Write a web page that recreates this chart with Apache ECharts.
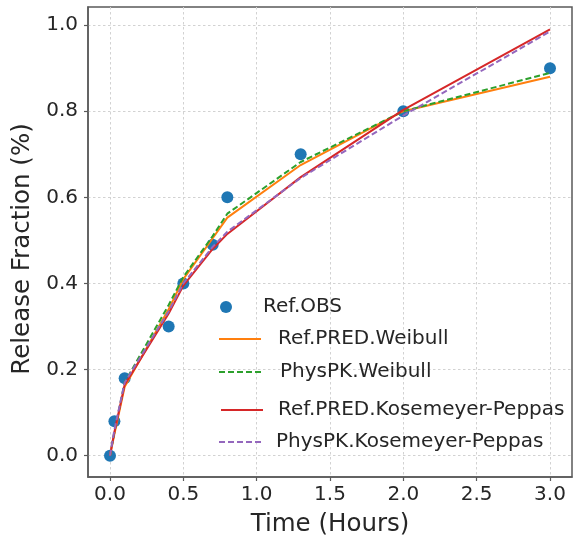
<!DOCTYPE html>
<html>
<head>
<meta charset="utf-8">
<script src="https://cdn.jsdelivr.net/npm/echarts@6/dist/echarts.min.js"></script>
<style>
  html, body { margin: 0; padding: 0; background: #fff; }
  #chart { width: 573px; height: 543px; }
</style>
</head>
<body>
<div id="chart"></div>
<script>
// Sampling times (hours) shared by observations and model predictions
const times = [0, 0.03, 0.1, 0.4, 0.5, 0.7, 0.8, 1.3, 2.0, 3.0];
// Observed release fraction
const refObs = [0, 0.08, 0.18, 0.30, 0.40, 0.49, 0.60, 0.70, 0.80, 0.90];
// Predicted release fraction, per model
const refPredWeibull = [0, 0.05, 0.16, 0.34, 0.41, 0.505, 0.553, 0.675, 0.80, 0.88];
const physPkWeibull = [0, 0.055, 0.17, 0.35, 0.415, 0.51, 0.562, 0.682, 0.80, 0.889];
const refPredKP = [0, 0.055, 0.165, 0.33, 0.395, 0.48, 0.515, 0.647, 0.803, 0.99];
const physPkKP = [0, 0.06, 0.17, 0.335, 0.40, 0.485, 0.52, 0.645, 0.79, 0.985];
// Tick labels
const xTicks = [0, 0.5, 1.0, 1.5, 2.0, 2.5, 3.0];
const yTicks = [0, 0.2, 0.4, 0.6, 0.8, 1.0];

const pair = (ys) => times.map((t, i) => [t, ys[i]]);
const FONT = 'DejaVu Sans';
const TXT = '#262626';
const AXIS = '#5a5a5a';

const axisCommon = {
  type: 'value',
  nameLocation: 'middle',
  nameTextStyle: { fontFamily: FONT, fontSize: 24.5, color: TXT },
  axisLine: { show: true, onZero: false, lineStyle: { color: AXIS, width: 1.5 } },
  axisTick: { show: true, length: 4, lineStyle: { color: AXIS, width: 1.2 } },
  splitLine: { show: true, lineStyle: { color: '#d2d2d2', width: 1, type: [2.5, 2.5] } },
  axisLabel: { fontFamily: FONT, fontSize: 20, color: TXT, formatter: (v) => v.toFixed(1) }
};

const legendBase = {
  orient: 'vertical',
  padding: 0,
  itemWidth: 42,
  itemHeight: 14,
  textStyle: { fontFamily: FONT, fontSize: 20, color: TXT, lineHeight: 20 },
  selectedMode: false
};
const mkLegend = (name, left, centerY, pad, extra) => Object.assign({}, legendBase, {
  data: [name], left: left, top: centerY - 10,
  textStyle: Object.assign({}, legendBase.textStyle, { padding: [0, 0, 0, pad] })
}, extra || {});

// line legends show only the stroke, no marker
const noMarker = { itemStyle: { opacity: 0 } };

const lineSeries = (name, ys, color, dashed) => ({
  name: name,
  type: 'line',
  data: pair(ys),
  showSymbol: false,
  symbol: 'none',
  z: 3,
  lineStyle: { color: color, width: 2, type: dashed ? [6, 3] : 'solid' },
  itemStyle: { color: color }
});

const chart = echarts.init(document.getElementById('chart'), null, { renderer: 'canvas' });
chart.setOption({
  backgroundColor: '#fff',
  animation: false,
  grid: { left: 88, right: 1, top: 7, bottom: 66, show: true, borderColor: AXIS, borderWidth: 1.5, backgroundColor: 'transparent' },
  xAxis: Object.assign({}, axisCommon, {
    name: 'Time (Hours)', nameGap: 35,
    min: -0.15, max: 3.15,
    axisTick: Object.assign({}, axisCommon.axisTick, { customValues: xTicks }),
    axisLabel: Object.assign({}, axisCommon.axisLabel, { customValues: xTicks, margin: 8 })
  }),
  yAxis: Object.assign({}, axisCommon, {
    name: 'Release Fraction (%)', nameGap: 51,
    nameTextStyle: Object.assign({}, axisCommon.nameTextStyle, { padding: [0, 14, 0, 0] }),
    min: -0.0495, max: 1.042,
    axisTick: Object.assign({}, axisCommon.axisTick, { customValues: yTicks }),
    axisLabel: Object.assign({}, axisCommon.axisLabel, { customValues: yTicks, margin: 10 })
  }),
  legend: [
    mkLegend('Ref.OBS', 220, 307, 26, { itemWidth: 12, itemHeight: 12 }),
    mkLegend('Ref.PRED.Weibull', 218, 339, 12, noMarker),
    mkLegend('PhysPK.Weibull', 218, 372, 14, noMarker),
    mkLegend('Ref.PRED.Kosemeyer-Peppas', 220, 410, 10, noMarker),
    mkLegend('PhysPK.Kosemeyer-Peppas', 218, 442, 10, noMarker)
  ],
  series: [
    {
      name: 'Ref.OBS', type: 'scatter', data: pair(refObs),
      symbol: 'circle', symbolSize: 12, z: 2,
      itemStyle: { color: '#1f77b4', opacity: 1 }
    },
    lineSeries('Ref.PRED.Weibull', refPredWeibull, '#ff7f0e', false),
    lineSeries('PhysPK.Weibull', physPkWeibull, '#2ca02c', true),
    lineSeries('Ref.PRED.Kosemeyer-Peppas', refPredKP, '#d62728', false),
    lineSeries('PhysPK.Kosemeyer-Peppas', physPkKP, '#9467bd', true)
  ]
});
</script>
</body>
</html>
